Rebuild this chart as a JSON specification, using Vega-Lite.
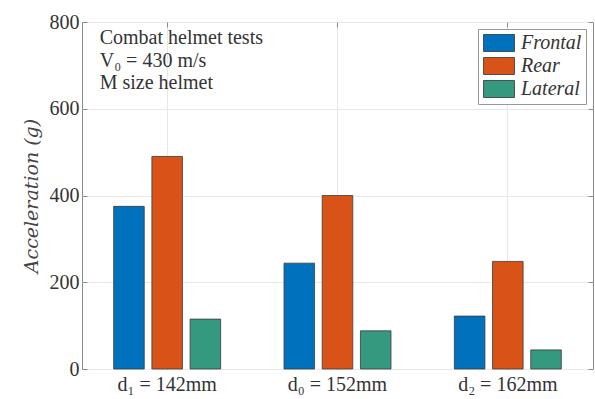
{
  "$schema": "https://vega.github.io/schema/vega-lite/v6.json",
  "width": 511,
  "height": 347,
  "autosize": {"type": "none"},
  "padding": {"left": 82, "top": 22, "right": 2, "bottom": 30},
  "background": "white",
  "config": {
    "view": {"stroke": "#8a8a8a", "strokeWidth": 1},
    "font": "Liberation Serif",
    "axis": {
      "labelFont": "Liberation Serif",
      "labelFontSize": 20,
      "labelColor": "#333333",
      "titleFont": "Liberation Serif",
      "titleFontSize": 20,
      "titleFontWeight": "normal",
      "titleColor": "#333333",
      "domain": false,
      "tickColor": "#8a8a8a",
      "tickSize": -5,
      "gridColor": "#e8e8e8",
      "gridWidth": 1
    }
  },
  "layer": [
    {
      "data": {
        "values": [
          {"d": "d₁ = 142mm", "dir": "Frontal", "acc": 375},
          {"d": "d₁ = 142mm", "dir": "Rear", "acc": 490},
          {"d": "d₁ = 142mm", "dir": "Lateral", "acc": 115},
          {"d": "d₀ = 152mm", "dir": "Frontal", "acc": 244},
          {"d": "d₀ = 152mm", "dir": "Rear", "acc": 400},
          {"d": "d₀ = 152mm", "dir": "Lateral", "acc": 88},
          {"d": "d₂ = 162mm", "dir": "Frontal", "acc": 122},
          {"d": "d₂ = 162mm", "dir": "Rear", "acc": 248},
          {"d": "d₂ = 162mm", "dir": "Lateral", "acc": 44}
        ]
      },
      "mark": {"type": "bar", "stroke": "#3a3a3a", "strokeWidth": 0.8},
      "encoding": {
        "x": {
          "field": "d",
          "type": "nominal",
          "sort": ["d₁ = 142mm", "d₀ = 152mm", "d₂ = 162mm"],
          "scale": {"paddingInner": 0.372, "paddingOuter": 0.186},
          "axis": {"title": null, "labelAngle": 0, "labelPadding": 10, "labelBaseline": "top", "bandPosition": 0.5, "grid": true}
        },
        "xOffset": {
          "field": "dir",
          "type": "nominal",
          "sort": ["Frontal", "Rear", "Lateral"],
          "scale": {"paddingInner": 0.2, "paddingOuter": 0}
        },
        "y": {
          "field": "acc",
          "type": "quantitative",
          "scale": {"domain": [0, 800]},
          "axis": {"title": "Acceleration (g)", "titleFont": "DejaVu Serif", "titleFontSize": 19, "titleFontStyle": "italic", "titleColor": "#444444", "values": [0, 200, 400, 600, 800], "labelPadding": 8, "titlePadding": 8, "grid": true}
        },
        "color": {
          "field": "dir",
          "type": "nominal",
          "scale": {"domain": ["Frontal", "Rear", "Lateral"], "range": ["#0072BD", "#D95319", "#35997F"]},
          "legend": {
            "title": null,
            "orient": "top-right",
            "offset": 7,
            "strokeColor": "#999999",
            "fillColor": "white",
            "padding": 4,
            "labelFont": "Liberation Serif",
            "labelFontStyle": "italic",
            "labelFontSize": 20,
            "labelColor": "#333333",
            "labelOffset": 12,
            "symbolType": "M-1.82,-1H1.82V1H-1.82Z",
            "symbolSize": 289,
            "symbolOffset": 7,
            "symbolOpacity": 1,
            "symbolStrokeColor": "#333333",
            "symbolStrokeWidth": 0.8,
            "rowPadding": 1
          }
        }
      }
    },
    {
      "data": {"values": [{}]},
      "mark": {"type": "text", "align": "left", "baseline": "top", "dx": -14, "dy": 6, "fontSize": 20, "lineHeight": 22.5, "font": "Liberation Serif", "color": "#333333"},
      "encoding": {
        "text": {"value": ["Combat helmet tests", "V₀ = 430 m/s", "M size helmet"]},
        "x": {
          "datum": "d₁ = 142mm",
          "type": "nominal",
          "bandPosition": 0,
          "scale": {"type": "band", "domain": ["d₁ = 142mm", "d₀ = 152mm", "d₂ = 162mm"], "paddingInner": 0.372, "paddingOuter": 0.186},
          "axis": {"orient": "top", "labels": false, "title": null, "grid": false, "bandPosition": 0.5}
        },
        "y": {
          "datum": 800,
          "type": "quantitative",
          "scale": {"domain": [0, 800]},
          "axis": {"orient": "right", "labels": false, "title": null, "grid": false, "values": [0, 200, 400, 600, 800]}
        }
      }
    }
  ],
  "resolve": {"scale": {"x": "independent", "y": "independent"}}
}
